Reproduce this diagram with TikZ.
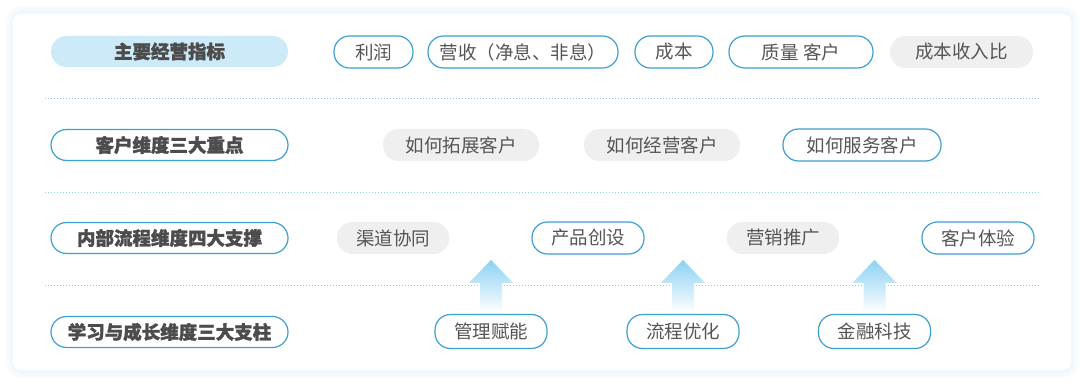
\documentclass[tikz,border=0pt]{standalone}
\usepackage{fontspec}
\setmainfont{Noto Sans CJK SC}[BoldFeatures={FakeBold=1.6}]
\usetikzlibrary{positioning, calc}
\definecolor{pillblue}{HTML}{3D9FD3}
\definecolor{titlefill}{HTML}{CDEAF8}
\definecolor{pillgray}{HTML}{EFEFEF}
\definecolor{textgray}{HTML}{555555}
\definecolor{dotblue}{HTML}{8CCBE6}
\definecolor{arrowblue}{HTML}{8CD2F2}
\definecolor{glow}{HTML}{F1F8FC}

\begin{document}
\begin{tikzpicture}[x=1pt, y=-1pt, font=\fontsize{18.5}{21}\selectfont,
  pill/.style={rounded corners=15.5pt, minimum height=32pt, inner sep=0pt, text=textgray},
  linepill/.style={pill, draw=pillblue, line width=1.2pt, fill=white},
  graypill/.style={pill, fill=pillgray},
  titlepill/.style={linepill, minimum width=237pt, minimum height=31pt, font=\fontsize{18.5}{21}\selectfont\bfseries, text=black!70}
]
  \useasboundingbox (0,0) rectangle (1086,387);
  % Card with soft glow
  \fill[glow!60, rounded corners=14pt] (6,7) rectangle (1078,377);
  \fill[glow, rounded corners=10pt] (10,11) rectangle (1074,373);
  \fill[white, rounded corners=8pt] (13,14) rectangle (1071,370);

  % Dotted separators
  \foreach \y in {98, 192, 285} {
    \draw[dotblue, line width=0.8pt, dash pattern=on 1.2pt off 1.8pt] (45,\y) -- (1039,\y);
  }

  % Row titles
  \node[titlepill, draw=none, fill=titlefill] (t1) at (169.5,51.5) {主要经营指标};
  \node[titlepill] (t2) at (169.5,145) {客户维度三大重点};
  \node[titlepill] (t3) at (169.5,238) {内部流程维度四大支撑};
  \node[titlepill] (t4) at (169.5,332) {学习与成长维度三大支柱};

  % Main indicators
  \node[linepill, minimum width=79pt] (profit) at (373.5,52) {利润};
  \node[linepill, minimum width=190pt] (revenue) at (523,52) {营收（净息、非息）};
  \node[linepill, minimum width=78pt] (cost) at (674,52) {成本};
  \node[linepill, minimum width=144pt] (quality) at (801,52) {质量\ 客户};
  \node[graypill, minimum width=143pt] (ratio) at (961.5,52) {成本收入比};

  % Customer focus
  \node[graypill, minimum width=156pt] (expand) at (461,145) {如何拓展客户};
  \node[graypill, minimum width=156pt] (operate) at (662,145) {如何经营客户};
  \node[linepill, minimum width=158pt] (serve) at (862,145) {如何服务客户};

  % Internal process
  \node[graypill, minimum width=112pt] (channel) at (393,238) {渠道协同};
  \node[linepill, minimum width=112pt] (product) at (588,238) {产品创设};
  \node[graypill, minimum width=112pt] (market) at (783,238) {营销推广};
  \node[linepill, minimum width=112pt] (experience) at (978,238) {客户体验};

  % Learning and growth
  \node[linepill, minimum width=112pt, minimum height=34pt] (manage) at (491,331.5) {管理赋能};
  \node[linepill, minimum width=112pt, minimum height=34pt] (process) at (683,331.5) {流程优化};
  \node[linepill, minimum width=112pt, minimum height=34pt] (fintech) at (874.5,331.5) {金融科技};

  % Upward arrows
  \foreach \n in {manage, process, fintech} {
    \shade[top color=arrowblue, middle color=arrowblue!80, bottom color=white]
      ([xshift=-11pt, yshift=1pt]\n.north) -- ([xshift=-11pt, yshift=31pt]\n.north)
      -- ([xshift=-22pt, yshift=31pt]\n.north) -- ([yshift=54pt]\n.north)
      -- ([xshift=22pt, yshift=31pt]\n.north) -- ([xshift=11pt, yshift=31pt]\n.north)
      -- ([xshift=11pt, yshift=1pt]\n.north) -- cycle;
  }
\end{tikzpicture}
\end{document}
